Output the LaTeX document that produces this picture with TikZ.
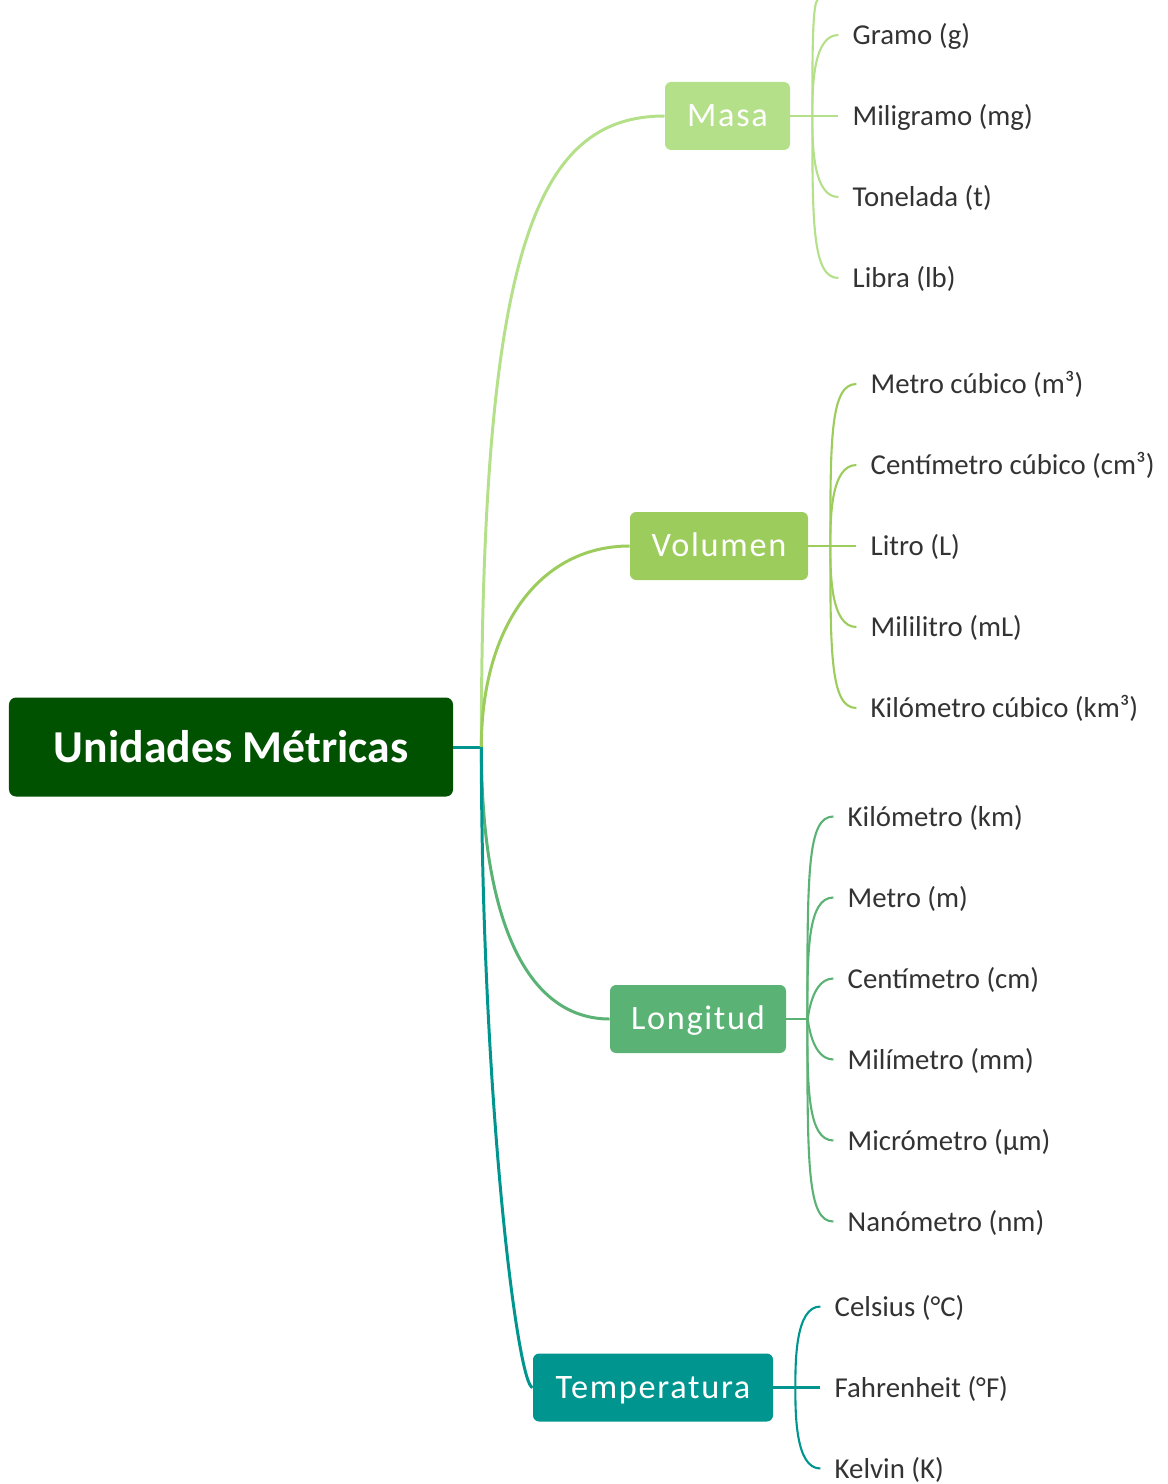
\documentclass[tikz,border=0pt]{standalone}
\usepackage{fontspec}
\setmainfont{Carlito}
\newfontfamily\branchfont[LetterSpace=5]{Carlito}
\usetikzlibrary{positioning,calc}

\definecolor{rootgreen}{RGB}{0,82,0}
\definecolor{masagreen}{RGB}{181,224,138}
\definecolor{volgreen}{RGB}{156,204,92}
\definecolor{longgreen}{RGB}{91,178,117}
\definecolor{tempteal}{RGB}{0,150,143}
\definecolor{leafgray}{RGB}{51,51,51}

\begin{document}
\begin{tikzpicture}[auto,node distance=1.62cm,
  root node/.style={rectangle,rounded corners=4pt,fill=rootgreen,text=white,
    font=\fontsize{26}{30}\selectfont\bfseries,minimum width=8.88cm,minimum height=1.98cm},
  main node/.style={rectangle,rounded corners=3.5pt,text=white,%%draw,
    font=\branchfont\fontsize{19.5}{23}\selectfont,minimum height=1.36cm,
    text height=14pt,text depth=1.5pt},
  leaf node/.style={inner xsep=0.28cm,text=leafgray,
    font=\fontsize{16.4}{19}\selectfont,text height=12pt,text depth=1.2pt},
  fork/.style={to path={.. controls ($(\tikztostart |- \tikztotarget)!1.1cm!(\tikztostart)$)
      and (\tikztostart |- \tikztotarget) .. (\tikztotarget)}}]
  \useasboundingbox (0,0) rectangle (23.36,-29.68);

  \node[root node] (Root) at (4.62,-14.94) {Unidades Métricas};
  \coordinate[right=0.56cm of Root.east] (Hub);

  \node[main node,fill=masagreen,minimum width=2.5cm] (Masa) at (14.55,-2.32) {Masa};
  \node[main node,fill=volgreen,minimum width=3.56cm] (Volumen) at (14.38,-10.92) {Volumen};
  \node[main node,fill=longgreen,minimum width=3.52cm] (Longitud) at (13.96,-20.38) {Longitud};
  \node[main node,fill=tempteal,minimum width=4.8cm] (Temperatura) at (13.06,-27.75) {Temperatura};

  % masa
  \coordinate[right=0.44cm of Masa.east] (MasaFork);
  \coordinate (MasaTop) at (16.36,0);
  \node[leaf node] (Miligramo) [right=0.96cm of Masa] {Miligramo (mg)};
  \node[leaf node] (Gramo) [above=of Miligramo.west,anchor=west] {Gramo (g)};
  \node[leaf node] (Tonelada) [below=of Miligramo.west,anchor=west] {Tonelada (t)};
  \node[leaf node] (Libra) [below=of Tonelada.west,anchor=west] {Libra (lb)};

  % volumen
  \coordinate[right=0.44cm of Volumen.east] (VolFork);
  \node[leaf node] (Litro) [right=0.96cm of Volumen] {Litro (L)};
  \node[leaf node] (CmCubico) [above=of Litro.west,anchor=west] {Centímetro cúbico (cm³)};
  \node[leaf node] (MCubico) [above=of CmCubico.west,anchor=west] {Metro cúbico (m³)};
  \node[leaf node] (Mililitro) [below=of Litro.west,anchor=west] {Mililitro (mL)};
  \node[leaf node] (KmCubico) [below=of Mililitro.west,anchor=west] {Kilómetro cúbico (km³)};

  % longitud
  \coordinate[right=0.42cm of Longitud.east] (LongFork);
  \node[leaf node] (Centimetro) [above right=0.81cm and 0.94cm of Longitud.east,anchor=west] {Centímetro (cm)};
  \node[leaf node] (Metro) [above=of Centimetro.west,anchor=west] {Metro (m)};
  \node[leaf node] (Kilometro) [above=of Metro.west,anchor=west] {Kilómetro (km)};
  \node[leaf node] (Milimetro) [below=of Centimetro.west,anchor=west] {Milímetro (mm)};
  \node[leaf node] (Micrometro) [below=of Milimetro.west,anchor=west] {Micrómetro (µm)};
  \node[leaf node] (Nanometro) [below=of Micrometro.west,anchor=west] {Nanómetro (nm)};

  % temperatura
  \coordinate[right=0.44cm of Temperatura.east] (TempFork);
  \node[leaf node] (Fahrenheit) [right=0.94cm of Temperatura] {Fahrenheit (°F)};
  \node[leaf node] (Celsius) [above=of Fahrenheit.west,anchor=west] {Celsius (°C)};
  \node[leaf node] (Kelvin) [below=of Fahrenheit.west,anchor=west] {Kelvin (K)};

  \path[line width=1.7pt]
    (Root) edge[tempteal] (Hub)
    (Hub) edge[masagreen,out=90,in=180,out distance=9.9cm,in distance=2.6cm] (Masa)
    (Hub) edge[volgreen,out=90,in=180,out distance=2.4cm,in distance=1.8cm] (Volumen)
    (Hub) edge[longgreen,out=-90,in=180,out distance=3.6cm,in distance=1.6cm] (Longitud)
    (Hub) edge[tempteal,out=-90,in=180,out distance=7cm,in distance=0.3cm] (Temperatura);

  \path[line width=1.2pt,masagreen]
    (Masa) edge (Miligramo)
    (MasaFork) edge[fork] (Gramo)
    (MasaFork) edge[fork] (Tonelada)
    (MasaFork) edge[fork] (Libra)
    (MasaFork) edge[fork] (MasaTop);

  \path[line width=1.2pt,volgreen]
    (Volumen) edge (Litro)
    (VolFork) edge[fork] (CmCubico)
    (VolFork) edge[fork] (MCubico)
    (VolFork) edge[fork] (Mililitro)
    (VolFork) edge[fork] (KmCubico);

  \path[line width=1.2pt,longgreen]
    (Longitud) edge (LongFork)
    (LongFork) edge[fork] (Kilometro)
    (LongFork) edge[fork] (Metro)
    (LongFork) edge[fork] (Centimetro)
    (LongFork) edge[fork] (Milimetro)
    (LongFork) edge[fork] (Micrometro)
    (LongFork) edge[fork] (Nanometro);

  \path[line width=1.2pt,tempteal]
    (Temperatura) edge (Fahrenheit)
    (TempFork) edge[fork] (Celsius)
    (TempFork) edge[fork] (Kelvin);
\end{tikzpicture}
\end{document}
